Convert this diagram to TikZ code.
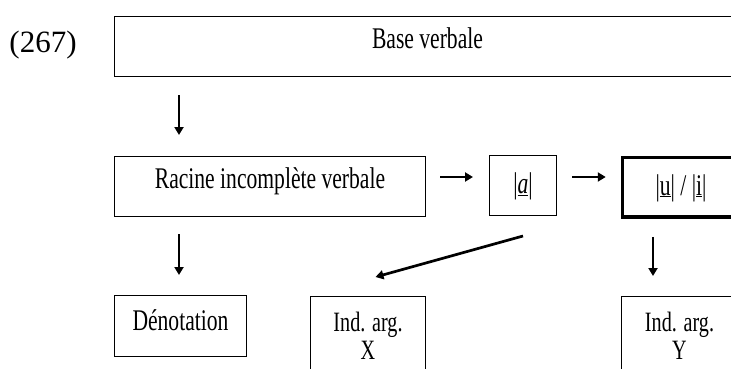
\documentclass[tikz,border=0pt]{standalone}
\usepackage{fontspec}
\setmainfont{Liberation Serif}
\newfontfamily\narrowfont[FakeStretch=0.72]{Liberation Serif}
\usetikzlibrary{arrows.meta,calc}

\begin{document}
\begin{tikzpicture}[x=1pt,y=-1pt,>={Triangle[length=8pt,width=9pt]},
    box/.style={draw,line width=1pt,anchor=north west,inner xsep=0pt,inner ysep=0pt,
      minimum height=0pt,font={\narrowfont\fontsize{30}{30}\selectfont}},
    argbox/.style={box,align=center,inner ysep=16pt,
      font={\narrowfont\fontsize{28}{28}\selectfont}},
    arr/.style={->,line width=2.7pt}]
  \useasboundingbox (0,0) rectangle (731,369);
  \clip (0,0) rectangle (731,369);
  % example number
  \node[anchor=base,font=\fontsize{31}{31}\selectfont] (exnum) at (43,53) {(267)};
  % top row
  \node[box,minimum width=626pt,text height=32pt,text depth=28pt] (base) at (114,16)
       {Base verbale};
  % middle row
  \node[box,minimum width=311pt,text height=32pt,text depth=28pt] (racine) at (114,156)
       {Racine incomplète verbale};
  \node[box,minimum width=67pt,text height=38pt,text depth=22pt] (avoy) at (489,155)
       {|\underline{\textit{a}}|};
  \node[box,line width=3.5pt,minimum width=117pt,text height=37.5pt,text depth=22pt]
       (uivoy) at (620.75,155.75) {|\underline{u}| / |\underline{i}|};
  % bottom row
  \node[box,minimum width=132pt,text height=35pt,text depth=26pt] (denot) at (114,295)
       {Dénotation};
  \node[argbox,minimum width=115pt] (indx) at (310,296) {Ind. arg.\\X};
  \node[argbox,minimum width=116pt] (indy) at (621,296) {Ind. arg.\\Y};
  % arrows
  \draw[arr,shorten <=18pt,shorten >=21pt] ([xshift=65pt]base.south west)
       -- ([xshift=65pt]racine.north west);
  \draw[arr,shorten <=17pt,shorten >=20pt] ([xshift=65pt]racine.south west)
       -- ([xshift=65pt]racine.south west |- denot.north);
  \draw[arr,shorten <=14pt,shorten >=16pt] ([yshift=-21pt]racine.north east)
       -- ([yshift=-21pt]racine.north east -| avoy.west);
  \draw[arr,shorten <=15pt,shorten >=15pt] ([yshift=-21pt]racine.north east -| avoy.east)
       -- ([yshift=-21pt]racine.north east -| uivoy.west);
  \draw[arr,shorten <=18pt,shorten >=20pt] ([xshift=32.25pt]uivoy.south west)
       -- ([xshift=32.25pt]uivoy.south west |- indy.north);
  \draw[arr] ([yshift=-20pt]avoy.south) -- ([shift={(7.5pt,19pt)}]indx.north);
\end{tikzpicture}
\end{document}
